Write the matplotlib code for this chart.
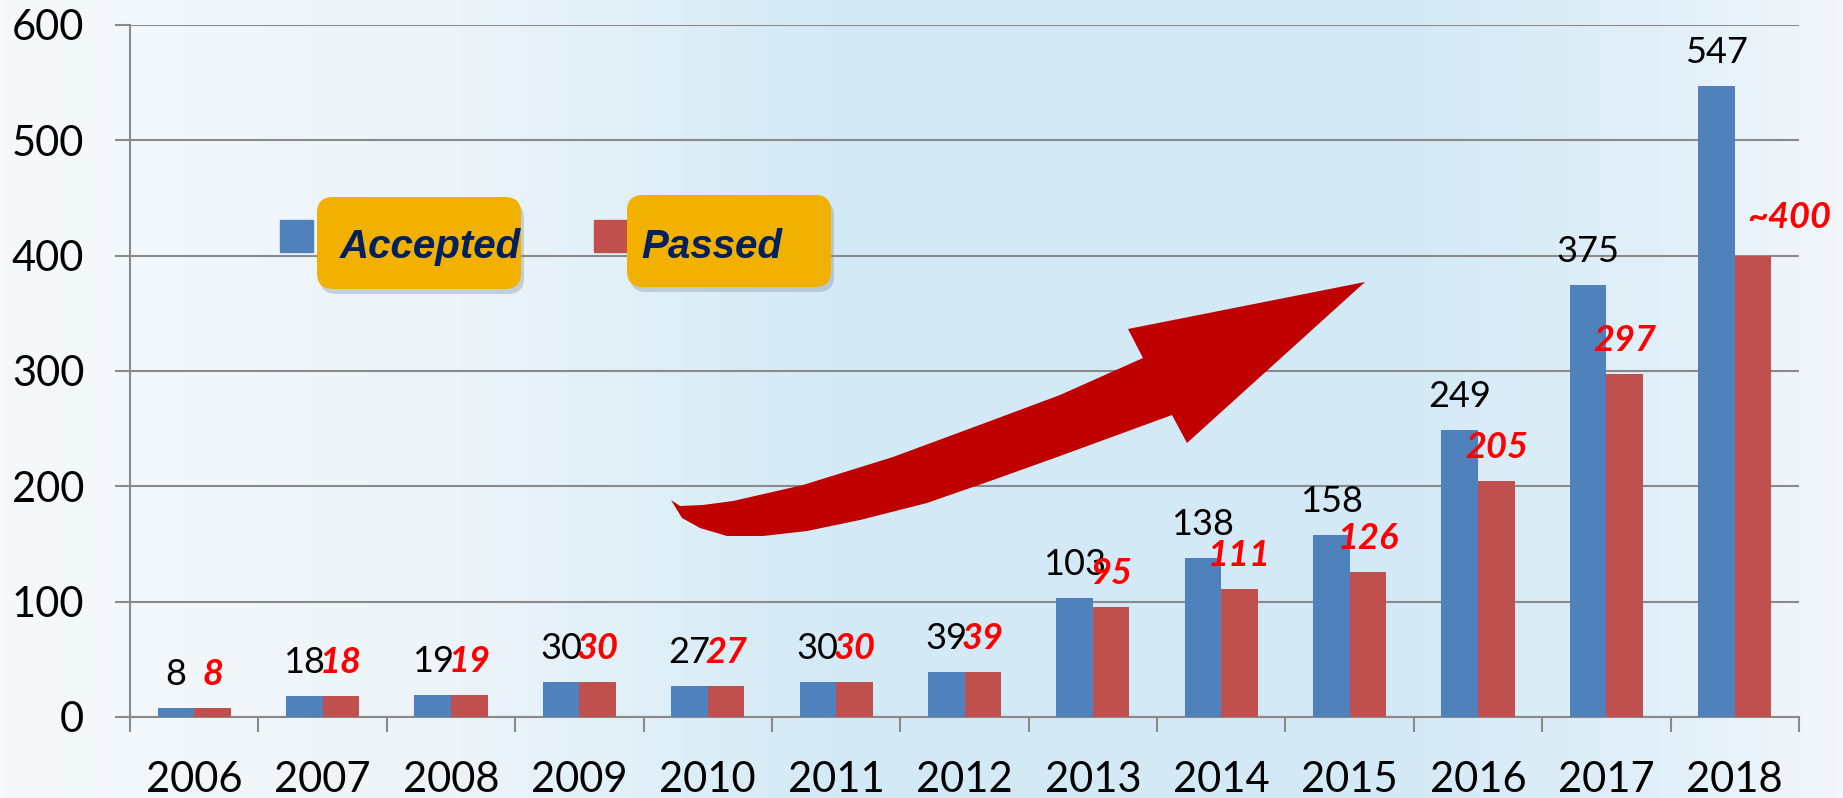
import numpy as np
import matplotlib
matplotlib.use("Agg")
import matplotlib.pyplot as plt
from matplotlib import font_manager
from matplotlib.patches import Polygon, FancyBboxPatch, Rectangle
from matplotlib.transforms import Affine2D

years = ["2006", "2007", "2008", "2009", "2010", "2011", "2012",
         "2013", "2014", "2015", "2016", "2017", "2018"]
accepted = [8, 18, 19, 30, 27, 30, 39, 103, 138, 158, 249, 375, 547]
passed = [8, 18, 19, 30, 27, 30, 39, 95, 111, 126, 205, 297, 400]
passed_labels = ["8", "18", "19", "30", "27", "30", "39",
                 "95", "111", "126", "205", "297", "~400"]
series_names = ["Accepted", "Passed"]

W, H, DPI = 1843, 798, 100
BLUE = "#4f81bd"
RED = "#c0504d"
GRID = "#8a8a8a"

names = {f.name for f in font_manager.fontManager.ttflist}
legend_font = "Liberation Sans Narrow" if "Liberation Sans Narrow" in names else "Liberation Sans"
legend_size = 35 if legend_font == "Liberation Sans Narrow" else 29

fig = plt.figure(figsize=(W / DPI, H / DPI), dpi=DPI)

# pale blue gradient backdrop
bg = fig.add_axes([0, 0, 1, 1], zorder=-10)
xs = np.linspace(0, 1, 400)
stops_x = [0.0, 0.25, 0.45, 0.75, 0.9, 1.0]
stops_c = np.array([[245, 249, 252], [236, 244, 249], [212, 234, 246],
                    [211, 233, 245], [225, 239, 248], [243, 247, 251]]) / 255
row = np.stack([np.interp(xs, stops_x, stops_c[:, k]) for k in range(3)], axis=-1)
img = np.repeat(row[None, :, :], 50, axis=0)
bg.imshow(img, aspect="auto", extent=[0, 1, 0, 1])
bg.axis("off")

ax = fig.add_axes([130 / W, 1 - 717 / H, (1799 - 130) / W, (717 - 25) / H])
ax.set_facecolor("none")

x = np.arange(len(years))
bw = 0.285
ax.bar(x - bw / 2, accepted, bw, color=BLUE, zorder=3)
ax.bar(x + bw / 2, passed, bw, color=RED, zorder=3)

ax.set_xlim(-0.5, len(years) - 0.5)
ax.set_ylim(0, 600)
ax.set_yticks(range(0, 601, 100))
ax.yaxis.grid(True, color=GRID, lw=1.5, zorder=0)
ax.set_axisbelow(True)

for s in ["top", "right"]:
    ax.spines[s].set_visible(False)
for s in ["left", "bottom"]:
    ax.spines[s].set_color(GRID)
    ax.spines[s].set_linewidth(1.5)

ax.set_xticks(x)
ax.set_xticklabels(years)
ax.set_xticks(np.arange(-0.5, len(years)), minor=True)
ax.tick_params(axis="x", which="major", length=0, pad=32, labelsize=30)
ax.tick_params(axis="x", which="minor", length=11, width=1.5, color=GRID, direction="out")
ax.tick_params(axis="y", length=11, width=1.5, color=GRID, pad=22, labelsize=30)
for lab in ax.get_xticklabels() + ax.get_yticklabels():
    lab.set_family("Lato")

# value labels
for i, v in enumerate(accepted):
    ax.annotate(str(v), (x[i] - bw / 2, v), xytext=(0, 23), textcoords="offset pixels",
                ha="center", va="baseline", fontsize=26, family="Lato", color="black", zorder=5)
for i, v in enumerate(passed):
    dx, dy = (36, 28) if passed_labels[i].startswith("~") else (0, 23)
    ax.annotate(passed_labels[i], (x[i] + bw / 2, v), xytext=(dx, dy), textcoords="offset pixels",
                ha="center", va="baseline", fontsize=26, family="Lato", fontweight="bold",
                fontstyle="italic", color="#ff0000", zorder=5)

# pixel coordinates, origin at top-left
px = Affine2D().scale(1, -1).translate(0, H)

# legend: coloured square + gold rounded box
legend = [(280, 317, 521, 197, 289, 340, BLUE), (594, 627, 831, 195, 287, 641, RED)]
for (sq_x, bx0, bx1, by0, by1, tx, col), name in zip(legend, series_names):
    fig.patches.append(Rectangle((sq_x, 220), 33, 32, transform=px, color=col, zorder=4))
    shadow = FancyBboxPatch((bx0 + 3, by0 + 5), bx1 - bx0, by1 - by0,
                            boxstyle="round,pad=0,rounding_size=16", transform=px,
                            facecolor="#7f8a99", edgecolor="none", alpha=0.35, zorder=4)
    box = FancyBboxPatch((bx0, by0), bx1 - bx0, by1 - by0,
                         boxstyle="round,pad=0,rounding_size=16", transform=px,
                         facecolor="#f2b000", edgecolor="none", zorder=5)
    fig.patches.extend([shadow, box])
    fig.text(tx, 258, name, transform=px, ha="left", va="baseline", fontsize=legend_size,
             family=legend_font, fontweight="bold", fontstyle="italic", color="#002060", zorder=6)

# big curved red arrow
arrow_pts = [(671, 500), (680, 506), (703, 505), (733, 501), (803, 485), (893, 457),
             (993, 420), (1060, 395), (1143, 358), (1128, 329), (1365, 282),
             (1187, 443), (1172, 415), (1060, 456), (993, 480), (927, 503),
             (860, 520), (807, 531), (763, 536), (727, 536), (700, 528), (682, 518)]
fig.patches.append(Polygon(arrow_pts, closed=True, transform=px,
                           facecolor="#c00000", edgecolor="none", zorder=4))

fig.savefig("out.png", dpi=DPI)
